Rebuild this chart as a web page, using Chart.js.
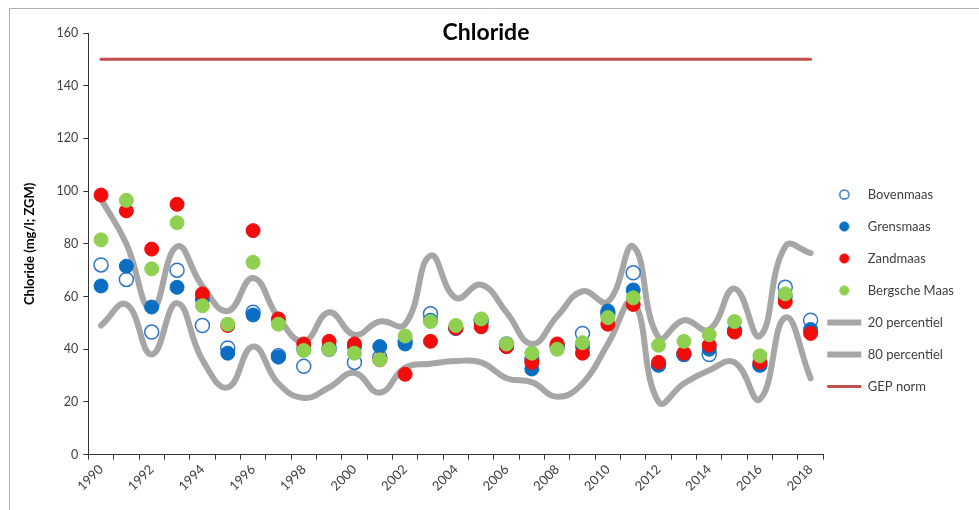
<!DOCTYPE html>
<html>
<head>
<meta charset="utf-8">
<script src="https://cdn.jsdelivr.net/npm/chart.js@4.4.1/dist/chart.umd.min.js"></script>
<style>
html,body{margin:0;padding:0;background:#fff;}
#wrap{width:979px;height:510px;position:relative;}
</style>
</head>
<body>
<div id="wrap"><canvas id="c" width="979" height="510"></canvas></div>
<script>
const years = ['1990','1991','1992','1993','1994','1995','1996','1997','1998','1999','2000','2001','2002','2003','2004','2005','2006','2007','2008','2009','2010','2011','2012','2013','2014','2015','2016','2017','2018'];
const bovenmaas = [72, 66.5, 46.5, 70, 49, 40.5, 54, 37.5, 33.5, 40, 35, 37, 43, 53.5, 48, 51, 42, 36, 41, 46, 53.5, 69, 34, 38, 38, 47, 34, 63.5, 51];
const grensmaas = [64, 71.5, 56, 63.5, 59, 38.5, 53, 37, 40, 41, 41, 41, 42, 51, 48, 50, 41, 32.5, 41, 41, 54.5, 62.5, 34, 38, 40, 47, 34, 60, 47.5];
const zandmaas = [98.5, 92.5, 78, 95, 61, 49, 85, 51.5, 42, 43, 42, 36, 30.5, 43, 48, 48.5, 41, 35, 42, 38.5, 49.5, 57, 35, 38.5, 41.5, 46.5, 35, 58, 46];
const bergscheMaas = [81.5, 96.5, 70.5, 88, 56.5, 49.5, 73, 49.5, 39.5, 40, 38.5, 36, 45, 50.5, 49, 51.5, 42, 38.5, 40, 42.5, 52, 59.5, 41.5, 43, 45.5, 50.5, 37.5, 61, null];
const percentiel20 = [49, 57, 38, 57.5, 36, 25.5, 41, 27, 21.5, 25.5, 31, 23.5, 33, 34.5, 35.5, 35, 29, 27.5, 22, 27, 42, 58, 20, 27, 32, 35, 21, 52, 29];
const percentiel80 = [97, 80, 55, 79, 64, 54.5, 67, 52, 43, 54, 45.5, 50.5, 49.5, 75.5, 59.5, 64.5, 54, 42, 52.5, 62, 58, 79, 44.5, 51, 47.5, 63, 45, 79, 76.5];
const gepNorm = [150,150,150,150,150,150,150,150,150,150,150,150,150,150,150,150,150,150,150,150,150,150,150,150,150,150,150,150,150];
const yTicks = [0, 20, 40, 60, 80, 100, 120, 140, 160];

const FONT = 'Lato, "Liberation Sans", sans-serif';

function legendDot(fill, stroke, lw) {
  const c = document.createElement('canvas');
  c.width = 13; c.height = 13;
  const g = c.getContext('2d');
  g.beginPath();
  g.arc(6.5, 6.5, 4.6, 0, Math.PI * 2);
  g.fillStyle = fill; g.fill();
  g.lineWidth = lw; g.strokeStyle = stroke; g.stroke();
  return c;
}

const framePlugin = {
  id: 'frame',
  beforeDraw(chart) {
    const ctx = chart.ctx;
    ctx.save();
    ctx.strokeStyle = '#b0b0b0';
    ctx.lineWidth = 1;
    ctx.beginPath();
    ctx.moveTo(9.5, 510);
    ctx.lineTo(9.5, 8.5);
    ctx.lineTo(979, 8.5);
    ctx.stroke();
    ctx.restore();
  }
};
const titlePlugin = {
  id: 'chartTitle',
  afterDraw(chart) {
    const ctx = chart.ctx;
    ctx.save();
    ctx.font = 'bold 23px ' + FONT;
    ctx.fillStyle = '#000';
    ctx.textAlign = 'center';
    ctx.textBaseline = 'middle';
    ctx.fillText('Chloride', 486, 33);
    ctx.restore();
  }
};
const legendShift = {
  id: 'legendShift',
  afterLayout(chart) {
    const l = chart.legend;
    if (l) { l.top += 52; l.left -= 15; l.right -= 15; }
  }
};

function pointSet(label, data, fill, border, bw, order) {
  return {
    label, data, order,
    showLine: false,
    backgroundColor: fill,
    borderColor: border,
    pointBackgroundColor: fill,
    pointBorderColor: border,
    pointBorderWidth: bw,
    pointRadius: 7,
    pointHoverRadius: 7,
    pointStyle: 'circle',
    legendMarker: legendDot(fill, border, bw)
  };
}
function lineSet(label, data, color, width, order, tension) {
  return {
    label, data, order,
    borderColor: color,
    backgroundColor: color,
    borderWidth: width,
    pointRadius: 0,
    pointHoverRadius: 0,
    pointStyle: 'line',
    tension: tension,
    fill: false,
    borderCapStyle: 'round',
    borderJoinStyle: 'round'
  };
}

new Chart(document.getElementById('c'), {
  type: 'line',
  data: {
    labels: years,
    datasets: [
      pointSet('Bovenmaas', bovenmaas, '#ffffff', '#2e75c9', 1.5, 4),
      pointSet('Grensmaas', grensmaas, '#0a6fc2', '#0a6fc2', 1, 3),
      pointSet('Zandmaas', zandmaas, '#f20d0d', '#f20d0d', 1, 2),
      pointSet('Bergsche Maas', bergscheMaas, '#8fd050', '#8fd050', 1, 1),
      lineSet('20 percentiel', percentiel20, '#a6a6a6', 6, 10, 0.45),
      lineSet('80 percentiel', percentiel80, '#a6a6a6', 6, 10, 0.45),
      lineSet('GEP norm', gepNorm, '#c0504d', 3, 10, 0)
    ]
  },
  options: {
    responsive: false,
    devicePixelRatio: 1,
    animation: false,
    layout: { padding: { left: 18, right: 0, top: 33, bottom: 14 } },
    plugins: {
      legend: {
        position: 'right',
        labels: {
          usePointStyle: true,
          pointStyleWidth: 34,
          padding: 19,
          color: '#404040',
          font: { family: FONT, size: 13 },
          sort: (a, b) => a.datasetIndex - b.datasetIndex,
          generateLabels: function(chart) {
            const items = Chart.defaults.plugins.legend.labels.generateLabels(chart);
            items.forEach(it => {
              const ds = chart.data.datasets[it.datasetIndex];
              if (ds.legendMarker) { it.pointStyle = ds.legendMarker; }
              else { it.pointStyle = 'line'; it.lineWidth = ds.borderWidth; it.strokeStyle = ds.borderColor; }
            });
            return items;
          }
        }
      },
      tooltip: { enabled: false }
    },
    scales: {
      x: {
        type: 'category',
        offset: true,
        grid: { display: true, offset: true, drawOnChartArea: false, drawTicks: true, tickLength: 5, color: '#333', lineWidth: 1 },
        border: { display: true, color: '#333', width: 1 },
        ticks: {
          autoSkip: false,
          maxRotation: 45,
          minRotation: 45,
          padding: 2,
          color: '#404040',
          font: { family: FONT, size: 13 },
          callback: function(v, i) { return i % 2 === 0 ? years[i] : ''; }
        }
      },
      y: {
        min: 0, max: 160,
        afterBuildTicks: (s) => { s.ticks = yTicks.map(v => ({ value: v })); },
        grid: { display: true, drawOnChartArea: false, drawTicks: true, tickLength: 5, color: '#333' },
        border: { display: true, color: '#333', width: 1 },
        ticks: { padding: 5, color: '#404040', font: { family: FONT, size: 12.5 } },
        title: {
          display: true,
          text: 'Chloride (mg/l; ZGM)',
          color: '#000',
          font: { family: FONT, size: 13, weight: 'bold' },
          padding: { top: 4, bottom: 14 }
        }
      }
    }
  },
  plugins: [framePlugin, titlePlugin, legendShift]
});
</script>
</body>
</html>
